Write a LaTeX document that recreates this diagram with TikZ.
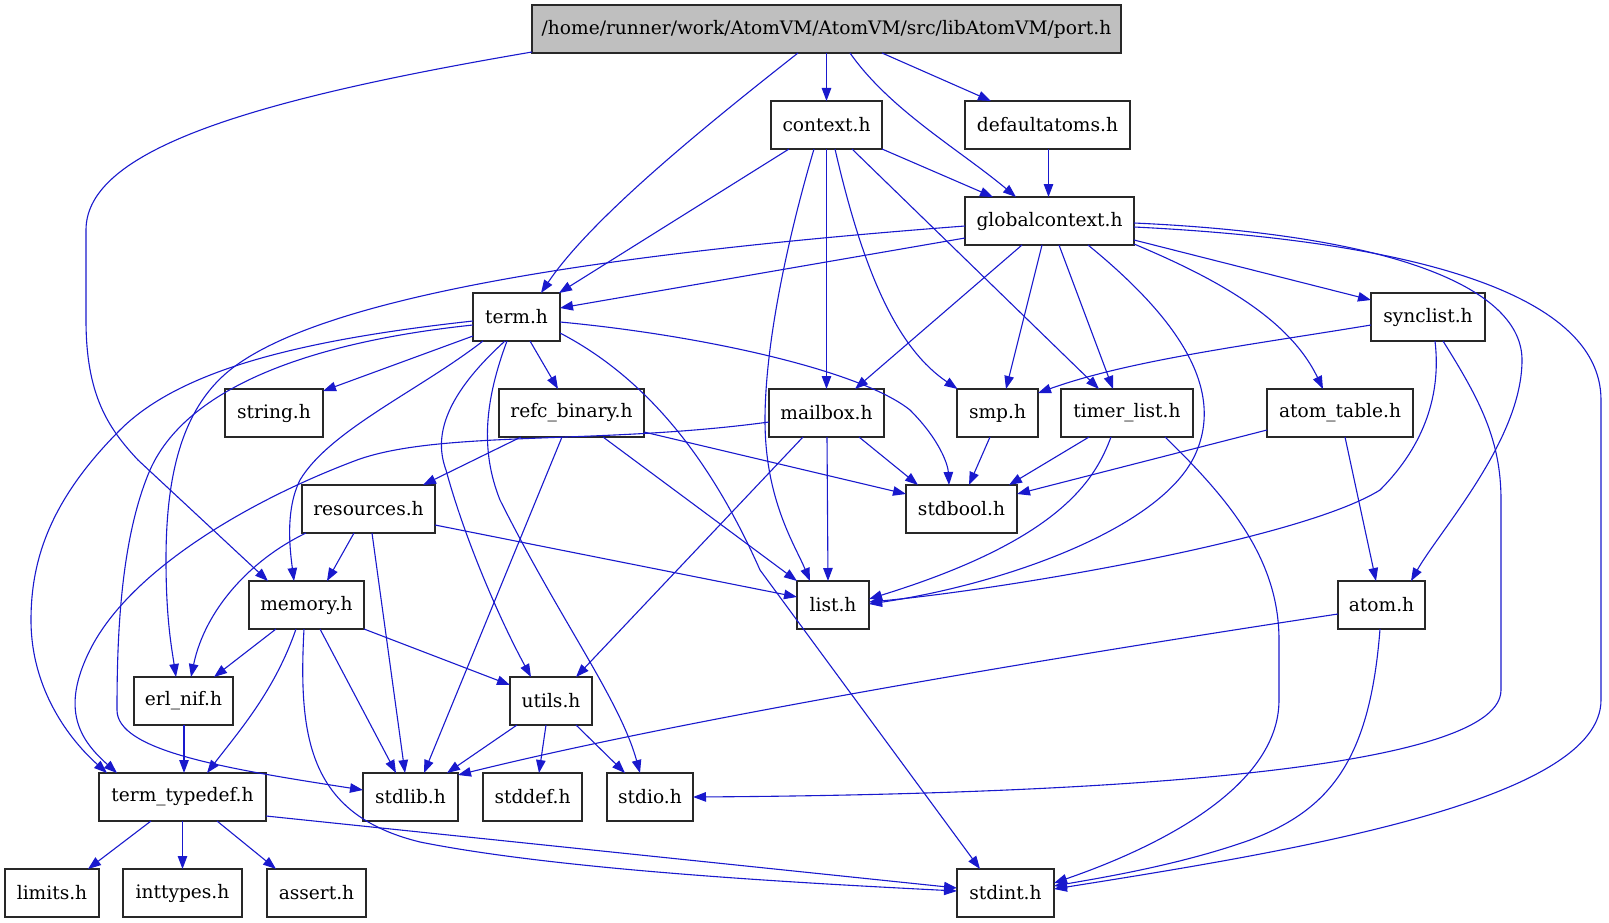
\documentclass[tikz,border=0pt]{standalone}
\usepackage{fontspec}
\setmainfont{DejaVu Serif}
\usetikzlibrary{arrows.meta,calc}
\definecolor{edgeblue}{RGB}{25,25,205}
\definecolor{portgray}{RGB}{191,191,191}
\definecolor{boxline}{RGB}{40,40,40}
\begin{document}
\begin{tikzpicture}[x=1pt,y=-1pt,
  box/.style={draw=boxline,line width=1.2pt,rectangle,minimum height=48pt,inner sep=0pt,font=\fontsize{18.6}{20}\selectfont},
  dep/.style={draw=edgeblue,line width=1.1pt,-{Triangle[length=13pt,width=9.5pt]}}]
\useasboundingbox (0,0) rectangle (1609,923);
% nodes
\node[box,fill=portgray,minimum width=589pt] (port) at (826.5,29) {/home/runner/work/AtomVM/AtomVM/src/libAtomVM/port.h};
\node[box,minimum width=111pt] (context) at (826.5,125) {context.h};
\node[box,minimum width=165pt] (defaultatoms) at (1047.5,125) {defaultatoms.h};
\node[box,minimum width=169pt] (gc) at (1049.5,221) {globalcontext.h};
\node[box,minimum width=87pt] (term) at (516.5,317) {term.h};
\node[box,minimum width=114pt] (synclist) at (1428,317) {synclist.h};
\node[box,minimum width=98pt] (string) at (274,413) {string.h};
\node[box,minimum width=145pt] (refc) at (571.5,413) {refc\_binary.h};
\node[box,minimum width=115pt] (mailbox) at (826.5,413) {mailbox.h};
\node[box,minimum width=81pt] (smp) at (997.5,413) {smp.h};
\node[box,minimum width=132pt] (timer) at (1127,413) {timer\_list.h};
\node[box,minimum width=146pt] (atomtable) at (1340,413) {atom\_table.h};
\node[box,minimum width=133pt] (resources) at (368.5,509) {resources.h};
\node[box,minimum width=111pt] (stdbool) at (961.5,509) {stdbool.h};
\node[box,minimum width=115pt] (memory) at (306.5,605) {memory.h};
\node[box,minimum width=72pt] (list) at (833,605) {list.h};
\node[box,minimum width=87pt] (atom) at (1381.5,605) {atom.h};
\node[box,minimum width=99pt] (erlnif) at (183.5,701) {erl\_nif.h};
\node[box,minimum width=82pt] (utils) at (551,701) {utils.h};
\node[box,minimum width=167pt] (typedef) at (182.5,797) {term\_typedef.h};
\node[box,minimum width=95pt] (stdlib) at (410.5,797) {stdlib.h};
\node[box,minimum width=99pt] (stddef) at (532.5,797) {stddef.h};
\node[box,minimum width=86pt] (stdio) at (650,797) {stdio.h};
\node[box,minimum width=94pt] (limits) at (52,893) {limits.h};
\node[box,minimum width=119pt] (inttypes) at (182.5,893) {inttypes.h};
\node[box,minimum width=99pt] (assert) at (316.5,893) {assert.h};
\node[box,minimum width=97pt] (stdint) at (1005.5,893) {stdint.h};
% port.h
\draw[dep] ($(port)+(-294.5,23)$) .. controls (250,100) and (86,150) .. (86,230) -- (86,320) .. controls (86,395) and (108,428) .. (138,460) -- ($(memory)+(-38.5,-24)$);
\draw[dep] ($(port)+(-28.5,24)$) .. controls (700,130) and (590,220) .. ($(term)+(24.5,-24)$);
\draw[dep] ($(port)+(0,24)$) -- ($(context)+(0,-24)$);
\draw[dep] ($(port)+(23.5,24)$) .. controls (890,110) and (960,150) .. ($(gc)+(-33.5,-24)$);
\draw[dep] ($(port)+(55.5,24)$) -- ($(defaultatoms)+(-56.5,-24)$);
% defaultatoms.h
\draw[dep] ($(defaultatoms)+(1,24)$) -- ($(gc)+(-1,-24)$);
% context.h
\draw[dep] ($(context)+(-37.5,24)$) -- ($(term)+(42.5,-24)$);
\draw[dep] ($(context)+(55.5,24)$) -- ($(gc)+(-56.5,-24)$);
\draw[dep] ($(context)+(0,24)$) -- ($(mailbox)+(0,-24)$);
\draw[dep] ($(context)+(8.5,24)$) .. controls (865,280) and (900,350) .. ($(smp)+(-40,-24)$);
\draw[dep] ($(context)+(25.5,24)$) -- ($(timer)+(-28,-24)$);
\draw[dep] ($(context)+(-12.5,24)$) .. controls (790,230) and (765,340) .. (765,420) .. controls (765,500) and (795,545) .. ($(list)+(-23,-24)$);
% globalcontext.h
\draw[dep] ($(gc)+(-84.5,17)$) -- ($(term)+(43.5,-9)$);
\draw[dep] ($(gc)+(-84.5,5)$) .. controls (650,250) and (330,290) .. (230,370) .. controls (180,410) and (166,480) .. (166,560) .. controls (166,620) and (172,650) .. ($(erlnif)+(-7.5,-24)$);
\draw[dep] ($(gc)+(-27.5,24)$) -- ($(mailbox)+(28.5,-24)$);
\draw[dep] ($(gc)+(-7.5,24)$) -- ($(smp)+(8.5,-24)$);
\draw[dep] ($(gc)+(9.5,24)$) -- ($(timer)+(-14,-24)$);
\draw[dep] ($(gc)+(38.5,24)$) .. controls (1180,320) and (1225,390) .. (1195,455) .. controls (1160,530) and (1000,585) .. ($(list)+(36,-1)$);
\draw[dep] ($(gc)+(84.5,23)$) .. controls (1220,280) and (1290,320) .. ($(atomtable)+(-17,-24)$);
\draw[dep] ($(gc)+(84.5,19)$) -- ($(synclist)+(-57,-17)$);
\draw[dep] ($(gc)+(84.5,2)$) .. controls (1400,235) and (1522,290) .. (1522,360) .. controls (1522,440) and (1440,530) .. ($(atom)+(29.5,-24)$);
\draw[dep] ($(gc)+(84.5,6)$) .. controls (1400,240) and (1601,290) .. (1601,400) -- (1601,700) .. controls (1601,800) and (1300,850) .. ($(stdint)+(48.5,-4)$);
% term.h
\draw[dep] ($(term)+(-43.5,19)$) -- ($(string)+(49,-22)$);
\draw[dep] ($(term)+(13.5,24)$) -- ($(refc)+(-13.5,-24)$);
\draw[dep] ($(term)+(-33.5,24)$) .. controls (420,390) and (330,430) .. (300,480) .. controls (285,510) and (290,550) .. ($(memory)+(-12.5,-24)$);
\draw[dep] ($(term)+(-11.5,24)$) .. controls (440,400) and (435,440) .. (446,470) .. controls (465,540) and (500,620) .. ($(utils)+(-20,-24)$);
\draw[dep] ($(term)+(-9.5,24)$) .. controls (485,400) and (480,450) .. (500,500) .. controls (560,620) and (620,700) .. ($(stdio)+(-10,-24)$);
\draw[dep] ($(term)+(43.5,16)$) .. controls (660,385) and (720,480) .. (760,570) -- ($(stdint)+(-25.5,-24)$);
\draw[dep] ($(term)+(43.5,5)$) .. controls (700,335) and (860,370) .. (910,410) .. controls (940,440) and (948,465) .. ($(stdbool)+(-12.5,-24)$);
\draw[dep] ($(term)+(-43.5,8)$) .. controls (330,340) and (190,380) .. (150,470) .. controls (120,540) and (117,640) .. (117,710) .. controls (117,750) and (220,768) .. ($(stdlib)+(-47.5,-7)$);
\draw[dep] ($(term)+(-43.5,4)$) .. controls (300,340) and (180,370) .. (120,430) .. controls (50,500) and (31,560) .. (31,620) .. controls (31,690) and (70,740) .. ($(typedef)+(-75.5,-24)$);
% mailbox.h
\draw[dep] ($(mailbox)+(-23.5,24)$) -- ($(utils)+(25,-24)$);
\draw[dep] ($(mailbox)+(0.5,24)$) -- ($(list)+(-5,-24)$);
\draw[dep] ($(mailbox)+(32.5,24)$) -- ($(stdbool)+(-43.5,-24)$);
\draw[dep] ($(mailbox)+(-57.5,9)$) .. controls (600,445) and (440,430) .. (357,460) .. controls (250,500) and (130,570) .. (90,650) .. controls (60,710) and (80,740) .. ($(typedef)+(-65.5,-24)$);
% refc_binary.h
\draw[dep] ($(refc)+(-50.5,24)$) -- ($(resources)+(54.5,-24)$);
\draw[dep] ($(refc)+(-9.5,24)$) -- ($(stdlib)+(13.5,-24)$);
\draw[dep] ($(refc)+(31.5,24)$) -- ($(list)+(-36,-24)$);
\draw[dep] ($(refc)+(72.5,19)$) -- ($(stdbool)+(-55.5,-15)$);
% resources.h
\draw[dep] ($(resources)+(-14.5,24)$) -- ($(memory)+(20.5,-24)$);
\draw[dep] ($(resources)+(-62.5,24)$) .. controls (250,560) and (205,610) .. ($(erlnif)+(7.5,-24)$);
\draw[dep] ($(resources)+(3.5,24)$) -- ($(stdlib)+(-5.5,-24)$);
\draw[dep] ($(resources)+(66.5,16)$) -- ($(list)+(-36,-8)$);
% memory.h
\draw[dep] ($(memory)+(-30.5,24)$) -- ($(erlnif)+(30.5,-24)$);
\draw[dep] ($(memory)+(-10.5,24)$) .. controls (275,690) and (240,730) .. ($(typedef)+(24.5,-24)$);
\draw[dep] ($(memory)+(-2.5,24)$) .. controls (298,740) and (310,815) .. (420,842) .. controls (560,870) and (800,883) .. ($(stdint)+(-48.5,-2)$);
\draw[dep] ($(memory)+(13.5,24)$) -- ($(stdlib)+(-14.5,-24)$);
\draw[dep] ($(memory)+(57.5,24)$) -- ($(utils)+(-41,-16)$);
% erl_nif.h
\draw[dep] ($(erlnif)+(0.5,24)$) -- ($(typedef)+(1.5,-24)$);
% utils.h
\draw[dep] ($(utils)+(-34,24)$) -- ($(stdlib)+(36.5,-24)$);
\draw[dep] ($(utils)+(-5,24)$) -- ($(stddef)+(6.5,-24)$);
\draw[dep] ($(utils)+(25,24)$) -- ($(stdio)+(-25,-24)$);
% term_typedef.h
\draw[dep] ($(typedef)+(-31.5,24)$) -- ($(limits)+(36,-24)$);
\draw[dep] ($(typedef)+(0,24)$) -- ($(inttypes)+(0,-24)$);
\draw[dep] ($(typedef)+(34.5,24)$) -- ($(assert)+(-40.5,-24)$);
\draw[dep] ($(typedef)+(83.5,19)$) -- ($(stdint)+(-48.5,-5)$);
% synclist.h
\draw[dep] ($(synclist)+(-57,8)$) .. controls (1250,345) and (1130,360) .. ($(smp)+(40.5,-20)$);
\draw[dep] ($(synclist)+(7,24)$) .. controls (1442,400) and (1420,450) .. (1380,490) .. controls (1300,540) and (1000,590) .. ($(list)+(36,-3)$);
\draw[dep] ($(synclist)+(15,24)$) .. controls (1480,400) and (1501,440) .. (1501,500) -- (1501,690) .. controls (1501,780) and (1000,795) .. ($(stdio)+(43,0)$);
% atom_table.h
\draw[dep] ($(atomtable)+(-73,17)$) -- ($(stdbool)+(55.5,-15)$);
\draw[dep] ($(atomtable)+(5,24)$) -- ($(atom)+(-5.5,-24)$);
% atom.h
\draw[dep] ($(atom)+(-43.5,9)$) .. controls (1100,650) and (700,715) .. ($(stdlib)+(47.5,-22)$);
\draw[dep] ($(atom)+(-1.5,24)$) .. controls (1370,760) and (1330,810) .. (1250,840) .. controls (1180,865) and (1100,878) .. ($(stdint)+(48.5,-7)$);
% smp.h
\draw[dep] ($(smp)+(-7.5,24)$) -- ($(stdbool)+(7.5,-24)$);
% timer_list.h
\draw[dep] ($(timer)+(-38,24)$) -- ($(stdbool)+(47.5,-24)$);
\draw[dep] ($(timer)+(-16,24)$) .. controls (1095,480) and (1060,540) .. ($(list)+(36,-6)$);
\draw[dep] ($(timer)+(38,24)$) .. controls (1230,500) and (1279,560) .. (1279,640) -- (1279,700) .. controls (1279,790) and (1150,850) .. ($(stdint)+(48.5,-10)$);
\end{tikzpicture}
\end{document}
